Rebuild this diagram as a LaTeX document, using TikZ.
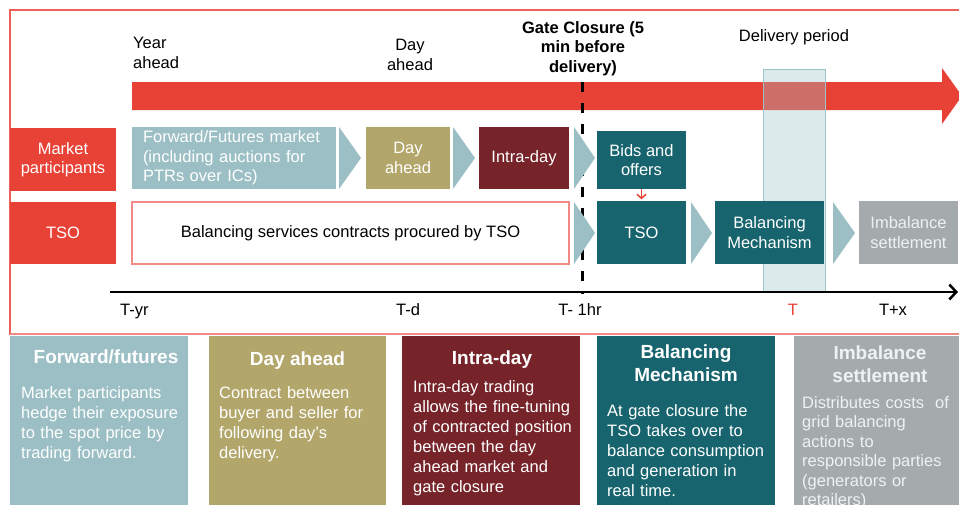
\documentclass[tikz,border=0pt]{standalone}
\usepackage{fontspec}
\setmainfont{Liberation Sans}
\usetikzlibrary{arrows.meta}
\definecolor{cred}{HTML}{E84136}
\definecolor{cltea}{HTML}{9BBFC4}
\definecolor{colive}{HTML}{B3A66B}
\definecolor{cdred}{HTML}{762329}
\definecolor{cteal}{HTML}{17646E}
\definecolor{cgray}{HTML}{A5AAAC}
\definecolor{cframe}{HTML}{F0605A}
\definecolor{cpink}{HTML}{F08A85}
\definecolor{cdel}{HTML}{9CC4C6}
\definecolor{cpale}{HTML}{EEF2F2}
\begin{document}
\begin{tikzpicture}[x=1pt,y=-1pt,
  txt/.style={font=\fontsize{16.5}{19.5}\selectfont},
  box/.style={rectangle, inner sep=0pt, align=center, text=white, txt},
  chev/.style={fill=cltea, draw=none},
  btitle/.style={anchor=base, align=center, text=white, inner sep=0pt,
    font=\bfseries\fontsize{19}{22.5}\selectfont},
  bbody/.style={anchor=base west, align=left, text=white, inner sep=0pt,
    text width=170pt, font=\fontsize{16.5}{20}\selectfont},
  lbl/.style={anchor=base, align=center, inner sep=0pt, txt},
  bfill/.style={draw=none}]
\clip (0,0) rectangle (959,504);
\fill[white] (0,0) rectangle (959,504);
% red arrow
\fill[cred] (132,82) -- (942,82) -- (942,68) -- (962,96) -- (942,124) -- (942,110) -- (132,110) -- cycle;
% delivery period
\draw[cdel, line width=1pt, fill=cdel, fill opacity=0.35] (763,69) rectangle (825,292);
% gate closure line
\coordinate (gc0) at (582,82);
\coordinate (gc1) at (582,294);
\draw[black, line width=3pt, dash pattern=on 10pt off 11pt] (gc0) -- (gc1);
% axis
\coordinate (ax0) at (110,292);
\coordinate (ax1) at (958,292);
\draw[black, line width=2.5pt, -{Straight Barb[length=7pt,width=15pt]}] (ax0) -- (ax1);
% frame
\draw[cframe, line width=1.5pt] (10,10) rectangle (965,334);
% left labels
\node[box, fill=cred, minimum width=106pt, minimum height=63pt] (mp) at (63,159.5) {Market\\participants};
\node[box, fill=cred, minimum width=106pt, minimum height=62pt] (tsol) at (63,233) {TSO};
% row 1
\node[box, fill=cltea, minimum width=204pt, minimum height=62pt, text width=182pt, inner xsep=11pt, align=left] (fwd) at (234,158)
  {Forward/Futures market\\(including auctions for\\PTRs over ICs)};
\node[box, fill=colive, minimum width=84pt, minimum height=62pt] (da) at (408,158) {Day\\ahead};
\node[box, fill=cdred, minimum width=90pt, minimum height=62pt] (id) at (524,158) {Intra-day};
\node[box, fill=cteal, minimum width=89pt, minimum height=58pt] (bids) at (641.5,160) {Bids and\\offers};
% row 2
\node[box, fill=white, draw=cpink, line width=1.2pt, text=black, minimum width=437pt, minimum height=62pt] (bal) at (350.5,233)
  {Balancing services contracts procured by TSO};
\node[box, fill=cteal, minimum width=89pt, minimum height=63pt] (tso) at (641.5,232.5) {TSO};
\node[box, fill=cteal, minimum width=109pt, minimum height=63pt] (bm) at (769.5,232.5) {Balancing\\Mechanism};
\node[box, fill=cgray, text=cpale, minimum width=99pt, minimum height=63pt] (imb) at (908.5,232.5) {Imbalance\\settlement};
% chevrons
\fill[chev] (339,127) -- (361,158) -- (339,189) -- cycle;
\fill[chev] (453,127) -- (475,158) -- (453,189) -- cycle;
\fill[chev] (574,127) -- (595,158) -- (574,189) -- cycle;
\fill[chev] (574,202) -- (595,233) -- (574,264) -- cycle;
\fill[chev] (691,202) -- (712,233) -- (691,264) -- cycle;
\fill[chev] (833,202) -- (855,233) -- (833,264) -- cycle;
% small arrow
\draw[cred, line width=1.5pt, -{Straight Barb[length=4pt,width=9pt]}, shorten >=1.5pt] (bids.south) -- (tso.north);
% top labels (base = last line)
\node[anchor=base west, align=left, inner sep=0pt, txt] (ya) at (133,68) {Year\\ahead};
\node[lbl] (dal) at (410,70) {Day\\ahead};
\node[lbl, font=\bfseries\fontsize{16.5}{19.5}\selectfont] (gcl) at (583,72) {Gate Closure (5\\min before\\delivery)};
\node[lbl] (dpl) at (794,41) {Delivery period};
% axis labels
\node[anchor=base west, inner sep=0pt, txt] (tyr) at (120,315) {T-yr};
\node[lbl] (td) at (408,315) {T-d};
\node[lbl] (th) at (580,315) {T- 1hr};
\node[lbl, text=cred] (tt) at (793,315) {T};
\node[lbl] (tx) at (893,315) {T+x};
% bottom boxes
\fill[cltea] (10,336) rectangle (188,510);
\fill[colive] (209,336) rectangle (386,510);
\fill[cdred] (402,336) rectangle (580,510);
\fill[cteal] (597,336) rectangle (775,510);
\fill[cgray] (794,336) rectangle (965,510);
\draw[cpink, line width=2pt] (10,334) -- (965,334);
\node[btitle] (b1t) at (106,363) {Forward/futures};
\node[bbody] (b1b) at (21,398) {Market participants\\hedge their exposure\\to the spot price by\\trading forward.};
\node[btitle] (b2t) at (297.5,365) {Day ahead};
\node[bbody] (b2b) at (219,398) {Contract between\\buyer and seller for\\following day’s\\delivery.};
\node[btitle] (b3t) at (492,364) {Intra-day};
\node[bbody] (b3b) at (413,392) {Intra-day trading\\allows the fine-tuning\\of contracted position\\between the day\\ahead market and\\gate closure};
\node[btitle] (b4t) at (686,381) {Balancing\\Mechanism};
\node[bbody] (b4b) at (607,416) {At gate closure the\\TSO takes over to\\balance consumption\\and generation in\\real time.};
\node[btitle, text=cpale] (b5t) at (880,382) {Imbalance\\settlement};
\node[bbody, text=cpale, font=\fontsize{16.5}{19.5}\selectfont] (b5b) at (802,408) {Distributes costs\ \ of\\grid balancing\\actions to\\responsible parties\\(generators or\\retailers)};
\end{tikzpicture}
\end{document}
